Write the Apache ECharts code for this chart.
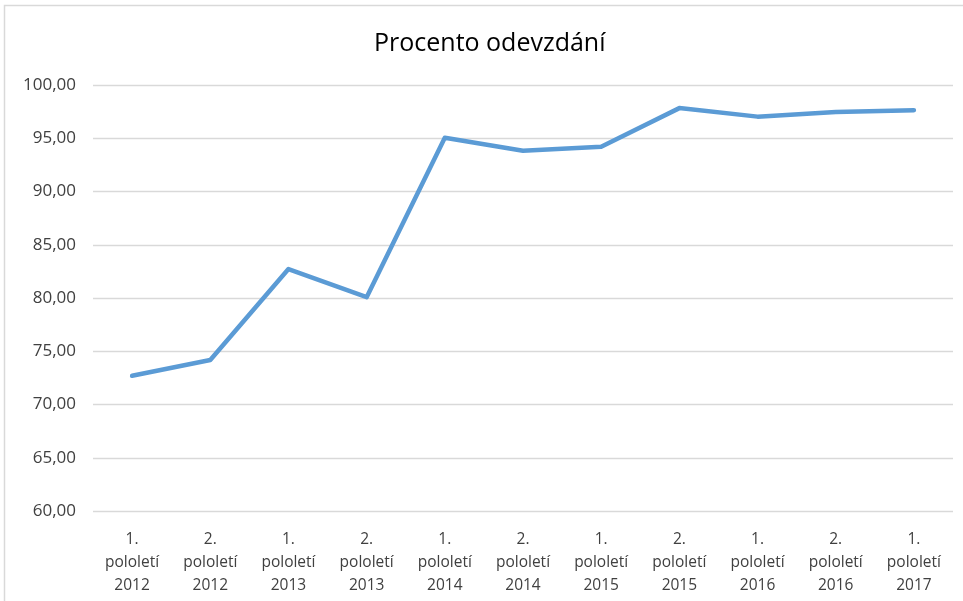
<!DOCTYPE html>
<html>
<head>
<meta charset="utf-8">
<script src="https://cdn.jsdelivr.net/npm/echarts@6/dist/echarts.min.js"></script>
<style>
html,body{margin:0;padding:0;background:#fff;}
#chart{width:963px;height:601px;}
</style>
</head>
<body>
<div id="chart"></div>
<script>
const title = 'Procento odevzdání';
const categories = [
  '1.\npololetí\n2012', '2.\npololetí\n2012',
  '1.\npololetí\n2013', '2.\npololetí\n2013',
  '1.\npololetí\n2014', '2.\npololetí\n2014',
  '1.\npololetí\n2015', '2.\npololetí\n2015',
  '1.\npololetí\n2016', '2.\npololetí\n2016',
  '1.\npololetí\n2017'
];
const values = [72.70, 74.18, 82.72, 80.08, 95.04, 93.83, 94.20, 97.83, 97.03, 97.46, 97.64];
const yMin = 60, yMax = 100, yStep = 5;

const chart = echarts.init(document.getElementById('chart'), null, {renderer: 'canvas'});
chart.setOption({
  animation: false,
  backgroundColor: '#ffffff',
  title: {
    text: title,
    left: 369,
    top: 26,
    textStyle: {fontFamily: 'Open Sans', fontSize: 25, fontWeight: 'normal', color: '#000000'}
  },
  graphic: [{
    type: 'rect',
    shape: {x: 4.5, y: 5.5, width: 1000, height: 700},
    style: {fill: 'none', stroke: '#d9d9d9', lineWidth: 1.5},
    silent: true
  }],
  grid: {left: 93, right: 10, top: 85, bottom: 90, containLabel: false},
  xAxis: {
    type: 'category',
    data: categories,
    boundaryGap: true,
    axisLine: {show: false},
    axisTick: {show: false},
    axisLabel: {
      interval: 0, margin: 17, lineHeight: 23,
      fontFamily: 'Open Sans', fontSize: 15.5, color: '#404040'
    }
  },
  yAxis: {
    type: 'value',
    min: yMin, max: yMax, interval: yStep,
    axisLine: {show: false},
    axisTick: {show: false},
    splitLine: {lineStyle: {color: '#d9d9d9', width: 1.3}},
    axisLabel: {
      margin: 17,
      fontFamily: 'Open Sans', fontSize: 17, color: '#404040',
      formatter: v => v.toFixed(2).replace('.', ',')
    }
  },
  series: [{
    type: 'line',
    data: values,
    symbol: 'none',
    lineStyle: {color: '#5b9bd5', width: 4.5, cap: 'round', join: 'round'},
    itemStyle: {color: '#5b9bd5'}
  }]
});
</script>
</body>
</html>
